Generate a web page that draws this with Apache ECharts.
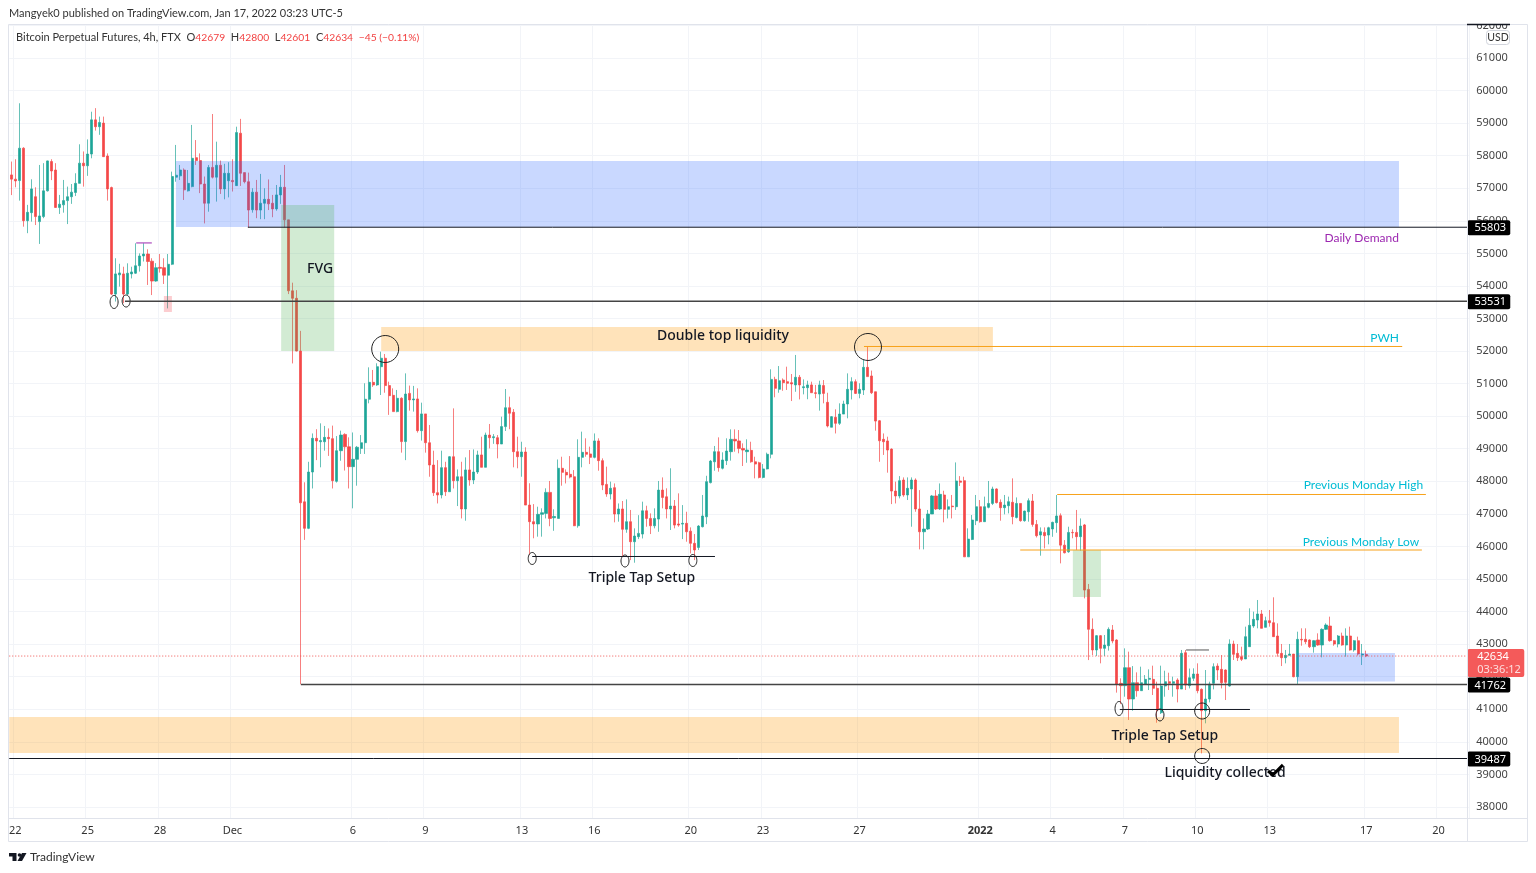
<!DOCTYPE html>
<html>
<head>
<meta charset="utf-8">
<title>Bitcoin Perpetual Futures, 4h, FTX</title>
<script src="https://cdn.jsdelivr.net/npm/echarts@6/dist/echarts.min.js"></script>
<style>
html, body { margin: 0; padding: 0; background: #fff; }
#main { width: 1536px; height: 873px; }
</style>
</head>
<body>
<div id="main"></div>
<script>
// 4h candles, each row is [open, close, low, high]
var candles = [
[57410,57280,56790,57820],[57280,57225,57030,57890],[57235,58230,56620,59610],[58230,56005,55820,58260],
[56005,56260,55620,56490],[56250,56980,55975,57275],[56740,56130,55870,57030],[55975,56150,55290,57715],
[56130,56920,56080,57770],[56920,57840,56900,57850],[57820,57530,57250,57890],[57560,56410,56400,57770],
[56410,56510,56210,56795],[56490,56620,56250,57255],[56620,56740,55900,57050],[56740,56880,56520,57130],
[56870,57150,56760,57460],[57150,57770,57150,58350],[57770,57690,57050,58130],[57690,58050,57380,58500],
[58050,59100,57920,59350],[59100,58890,58770,59460],[58890,59020,58640,59200],[59000,57970,57970,59200],
[57990,56980,56620,58070],[57020,53750,53720,57050],[53750,54370,53520,54850],[54340,54400,53980,54680],
[54370,53750,53470,54590],[53750,54390,53720,54695],[54370,54430,54230,54590],[54390,54620,54370,55310],
[54620,54920,54440,55000],[54920,54980,54750,55310],[54980,54750,54030,55125],[54760,54150,53720,54850],
[54150,54560,54130,54700],[54570,54540,54410,54980],[54560,54330,54060,54850],[54330,54665,53310,54980],
[54665,57360,54640,57510],[57340,57400,57200,58330],[57380,57560,57255,57715],[57560,56950,56640,57610],
[56920,57150,56900,57560],[57050,57920,57030,58945],[57940,57850,57715,58480],[57850,57130,56850,58070],
[57130,56540,55920,57360],[56540,57640,56280,57715],[57640,57340,57300,59280],[57340,57705,56590,58430],
[57705,56980,56825,57850],[56980,57460,56660,57750],[57230,57460,56720,57800],[57240,57200,56900,57890],
[57080,58710,57070,58890],[58690,57460,57070,59130],[57480,57200,57150,57480],[57200,56330,55800,57480],
[56340,56880,56250,57000],[56880,56330,56080,57255],[56330,56540,56050,57440],[56540,56660,56050,57000],
[56660,56520,56330,57270],[56540,56365,56110,56795],[56365,56795,56310,57100],[56795,57030,56520,57410],
[57030,56030,55800,57715],[56030,53850,53750,56030],[53850,53620,51620,54100],[53620,52000,51990,53870],
[52000,47340,41770,52620],[47370,46555,46200,47970],[46555,48285,46530,48600],[48285,49320,47780,49470],
[49320,49240,48650,49600],[49215,49250,48430,49780],[49215,49350,48940,49700],[49350,49310,48780,49625],
[49310,48020,47780,49710],[48000,48940,47960,49390],[48940,49420,48630,49555],[49440,49060,48330,49475],
[49060,48450,47780,49350],[48450,48675,47170,49500],[48675,49045,47865,49085],[49010,49185,48840,49420],
[49185,50520,48840,51010],[50520,51040,50395,51500],[51040,50960,50900,51420],[50960,51520,50930,51625],
[51520,51780,50650,51980],[51780,50940,50720,51910],[50940,50630,50040,51060],[50640,50140,50140,50855],
[50140,50550,50120,50805],[50550,49220,48880,50580],[49220,50680,48650,51315],[50700,50500,50170,50940],
[50500,50530,50140,50930],[50530,49555,49495,50855],[49555,50070,49250,50415],[50070,49185,48880,50070],
[49185,48500,48140,49730],[48500,47650,47550,48940],[47650,47580,47320,48650],[47580,48420,47475,48940],
[48420,47680,47550,48600],[47680,48755,47680,48775],[48755,48020,47780,50240],[48020,48140,47240,48365],
[48140,47150,46860,48600],[47150,48350,46790,48735],[48350,48040,47865,48960],[48040,48285,47915,48980],
[48285,48810,48225,48940],[48810,48430,48430,49370],[48430,49420,48430,49495],[49420,49340,49010,49760],
[49340,49370,49150,49450],[49340,49145,48705,49420],[49145,49680,49145,49985],[49680,50260,49545,50835],
[50260,50090,49600,50600],[50120,48910,48430,50220],[48910,48755,48400,49370],[48755,48900,48140,49215],
[48900,47270,47270,49045],[47270,46760,45735,47940],[46760,46690,46250,47300],[46690,46985,46300,47220],
[46985,47035,46300,47170],[47015,47660,46860,47785],[47660,46860,46620,48010],[46880,46920,46480,47140],
[46860,48400,46860,48670],[48400,48275,47865,48755],[48275,48195,47935,48365],[48215,48130,48090,48775],
[48140,46635,46625,48345],[46635,48735,46575,49290],[48735,48890,48430,49525],[48890,48830,48755,49320],
[48840,48735,48530,49065],[48735,49240,48705,49470],[49240,48635,48325,49320],[48635,47885,47730,48705],
[47905,47610,47525,48450],[47610,47785,47445,47990],[47805,46995,46740,47935],[46995,47150,46760,47320],
[47150,46525,45680,47395],[46525,46760,46420,47445],[46760,46145,45580,47120],[46145,46320,45500,46555],
[46300,46400,46225,46960],[46380,47095,46245,47375],[47095,46860,46605,47250],[46860,46635,46380,47015],
[46635,46860,46555,47170],[46840,47730,46450,48010],[47730,47505,47170,48120],[47525,47150,46860,47785],
[47150,47240,46505,48400],[47240,46655,46555,47425],[46690,46655,46605,47630],[46685,46710,46225,47270],
[46710,46450,46145,47065],[46470,46095,45785,46585],[46095,45890,45580,46380],[45970,46625,45890,46655],
[46605,46935,46585,47580],[46910,47990,46685,48170],[47960,48620,47935,48655],[48600,48910,48325,49085],
[48910,48420,48295,49350],[48400,48655,48365,48890],[48635,48930,48500,49320],[48910,49290,48635,49595],
[49290,49240,48910,49595],[49240,49010,48860,49575],[49010,48960,48470,49165],[48910,48960,48570,49290],
[48950,48600,48570,49215],[48600,48530,48090,48755],[48570,48120,48090,48600],[48120,48380,48090,48530],
[48380,48830,48365,48880],[48830,51130,48705,51440],[51130,50855,50580,51210],[50825,51090,50720,51540],
[51110,51030,50780,51160],[51060,51010,50805,51520],[51030,50990,50465,51295],[50960,51195,50750,51880],
[51195,50960,50515,51265],[50875,50905,50670,51130],[50875,50960,50520,51090],[50960,50720,50720,51060],
[50720,50700,50550,50960],[50680,50960,50170,51090],[50940,50700,50395,51110],[50425,49700,49655,50720],
[49660,49985,49660,50005],[49965,49780,49470,50210],[49780,50065,49730,50395],[50065,50375,50065,50475],
[50375,50825,49935,51315],[50805,51060,50515,51195],[51060,50700,50680,51130],[50700,50825,50550,51010],
[50805,51500,50650,51725],[51500,51215,51215,52155],[51235,50720,50680,51400],[50750,49850,49555,50750],
[49860,49245,48600,49880],[49290,49215,48810,49470],[49240,48960,48265,49370],[48990,47700,47300,49010],
[47700,47550,47320,47990],[47550,48020,47475,48160],[48040,47580,47525,48120],[47580,47785,47425,48120],
[47765,48040,46605,48120],[48040,47150,47065,48090],[47150,46450,45910,47730],[46450,46535,45910,46860],
[46535,46995,46505,47120],[46995,47550,46995,47580],[47550,47150,47120,47730],[47150,47600,47120,47935],
[47580,47140,46740,47710],[47140,47220,46860,47445],[47240,47220,46860,47580],[47220,48010,47120,48580],
[48010,47970,47855,48160],[48020,45680,45680,48140],[45680,46225,45680,46555],[46215,46810,46195,46965],
[46790,47220,46655,47580],[47220,46760,46730,47425],[46760,47220,46760,47530],[47200,47320,47170,48010],
[47320,47765,47270,47835],[47765,47345,47320,47785],[47355,47190,46790,47445],[47190,47270,46985,47580],
[47250,47375,47015,47530],[47355,46915,46680,48090],[46890,47320,46860,47505],[47320,46790,46760,47320],
[46790,47085,46760,47100],[47065,47405,46760,47475],[47395,46675,46605,47610],[46675,46330,46275,46810],
[46350,46450,45715,46585],[46430,46330,45940,46585],[46350,46575,46065,46605],[46535,46740,46295,46760],
[46730,46935,46420,47580],[46945,46040,45480,47015],[46040,45805,45785,46195],[45835,46430,45805,46605],
[46430,46420,46250,46525],[46430,46300,45890,47120],[46300,46625,45870,46860],[46660,44660,44405,46690],
[44680,43454,42510,44847],[43454,42820,42665,43790],[42820,43260,42635,43280],[43260,42870,42410,43280],
[42870,42970,42635,43280],[42950,43454,42800,43515],[43434,43095,43024,43587],[43126,41775,41510,43147],
[41795,41723,41160,41950],[41723,42276,41385,42870],[42276,41314,40670,42768],[41314,41815,40955,42327],
[41815,41570,41385,42133],[41570,41815,41570,42307],[41775,41918,41744,42050],[41918,41950,41590,42225],
[41918,41642,41437,42338],[41642,40976,40587,41846],[40893,41713,40853,42338],[41713,41846,41385,42184],
[41846,41795,41590,42122],[41795,41846,41385,42000],[41897,41620,41211,41950],[41620,42716,41620,42820],
[42737,41744,41590,42820],[41724,41969,41640,42250],[41950,42082,41870,42256],[42082,41570,41490,42410],
[41612,40955,39645,41640],[40955,41314,40567,42205],[41314,41775,41211,41846],[41795,42307,41610,42410],
[42327,42205,41897,42410],[42225,41815,41640,42665],[42205,41826,41283,42225],[41713,43004,41692,43147],
[43004,42686,42512,43106],[42716,42583,42481,43004],[42614,42532,42481,42920],[42543,43229,42543,43536],
[42921,43577,42921,44099],[43556,43761,43500,43997],[43740,43925,43485,44355],[43925,43485,43485,44048],
[43515,43720,43515,43843],[43720,43658,43536,44048],[43658,43229,43229,44437],[43249,42716,42614,43638],
[42716,42583,42327,43004],[42583,42655,42410,42820],[42655,42696,42655,43004],[42696,42000,41980,42696],
[42000,43147,41744,43382],[43147,43127,42950,43485],[43147,43075,43000,43485],[43127,42920,42880,43147],
[42920,43106,42737,43127],[43127,42972,42950,43331],[42972,43454,42594,43485],[43454,43587,43434,43638],
[43556,43106,43075,43843],[43106,43004,42950,43127],[43004,43249,42900,43280],[43249,42972,42950,43352],
[42972,43249,42614,43485],[43249,42820,42800,43536],[42820,43106,42767,43127],[43106,42696,42650,43229],
[42665,42696,42358,43004],[42679,42634,42601,42800]
];

var barCount = 363;
var tickLabels = ['22','25','28','Dec','6','9','13','16','20','23','27','2022','4','7','10','13','17','20'];
var tickDays = [0,3,6,9,14,17,21,24,28,31,35,40,43,46,49,52,56,59];
var priceTicks = [38000,39000,40000,41000,42000,43000,44000,45000,46000,47000,48000,49000,50000,51000,52000,53000,54000,55000,56000,57000,58000,59000,60000,61000,62000];

// price levels marked on the scale
var levelPrices = [55803, 53531, 41762, 39487];
var levelStarts = [59.4, 28.8, 72.6, 0];
var levelWidths = [1, 1.6, 1.6, 1];

// drawings, x is in bars from the left edge of the pane
var zones = [
  [41.5, 346, 57837, 55810, 'rgba(41,98,255,0.25)'],
  [67.7, 80.9, 56486, 52002, 'rgba(76,175,80,0.25)'],
  [92.6, 244.9, 52740, 52002, 'rgba(255,152,0,0.27)'],
  [0, 346, 40762, 39657, 'rgba(255,152,0,0.27)'],
  [264.8, 271.8, 45890, 44447, 'rgba(76,175,80,0.25)'],
  [320.6, 345, 42727, 41850, 'rgba(41,98,255,0.25)'],
  [38.5, 40.5, 53691, 53200, 'rgba(242,54,69,0.25)']
];
var segments = [
  [130.2, 175.7, 45691, '#131722'],
  [276.5, 308.9, 40993, '#131722'],
  [293, 298.7, 42820, '#555'],
  [31.6, 35.5, 55320, '#9c27b0'],
  [212.8, 346.8, 52140, '#f7a21b'],
  [260.9, 352.7, 47595, '#f7a21b'],
  [251.7, 351.7, 45890, '#f7a21b']
];
var rings = [
  [93.6, 52063, 13.5, 13.5], [213.8, 52125, 13.5, 13.5], [297, 40946, 7.5, 8], [297, 39565, 7.5, 7.5],
  [26.1, 53507, 4, 6.5], [29.1, 53537, 4, 6], [130.2, 45630, 4, 6], [153.3, 45553, 4, 6],
  [170.2, 45568, 4, 6], [276.3, 41023, 4, 7], [286.5, 40823, 4, 6]
];
var notes = [
  ['FVG', 77.4, 54551, 14, '#131722', 'center'],
  ['Double top liquidity', 177.7, 52493, 14, '#131722', 'center'],
  ['Triple Tap Setup', 157.5, 45061, 14, '#131722', 'center'],
  ['Triple Tap Setup', 287.7, 40209, 14, '#131722', 'center'],
  ['Liquidity collected', 302.7, 39073, 14, '#131722', 'center'],
  ['Daily Demand', 346, 55503, 12, '#9c27b0', 'right'],
  ['PWH', 346, 52432, 12, '#00bcd4', 'right'],
  ['Previous Monday High', 352, 47918, 12, '#00bcd4', 'right'],
  ['Previous Monday Low', 351, 46167, 12, '#00bcd4', 'right']
];
var checkMark = [[313.4, 39103], [314.6, 38980], [317.1, 39290]];
var lastPrice = 42634;
var countdown = '03:36:12';

var fontName = '"Noto Sans", sans-serif';
var smallFont = 'Lato, sans-serif';
var chartDom = document.getElementById('main');
var myChart = echarts.init(chartDom);

var categories = candles.map(function (c, i) { return i; });
while (categories.length < barCount) categories.push(categories.length);
var tickMap = {};
tickDays.forEach(function (d, i) { tickMap[1 + d * 6] = tickLabels[i]; });
function isTick(index) { return tickMap[index] !== undefined; }

function drawZone(params, api) {
  var z = zones[params.dataIndex];
  var a = api.coord([z[0], z[2]]);
  var b = api.coord([z[1], z[3]]);
  return { type: 'rect', shape: { x: a[0], y: a[1], width: b[0] - a[0], height: b[1] - a[1] }, style: { fill: z[4] } };
}
function drawSegment(params, api) {
  var s = segments[params.dataIndex];
  var a = api.coord([s[0], s[2]]);
  var b = api.coord([s[1], s[2]]);
  return { type: 'line', shape: { x1: a[0], y1: a[1], x2: b[0], y2: b[1] }, style: { stroke: s[3], lineWidth: 1 } };
}
function drawRing(params, api) {
  var r = rings[params.dataIndex];
  var c = api.coord([r[0], r[1]]);
  return { type: 'ellipse', shape: { cx: c[0], cy: c[1], rx: r[2], ry: r[3] }, style: { fill: 'none', stroke: '#222', lineWidth: 1 } };
}
function drawNote(params, api) {
  var n = notes[params.dataIndex];
  var c = api.coord([n[1], n[2]]);
  var big = n[3] > 12;
  return {
    type: 'text', x: c[0], y: c[1] + 1,
    style: { text: n[0], fontSize: n[3], fontFamily: big ? fontName : smallFont, fontWeight: big ? 500 : 400, fill: n[4], align: n[5], verticalAlign: 'middle' }
  };
}
function drawCheck(params, api) {
  return {
    type: 'polyline',
    shape: { points: checkMark.map(function (p) { return api.coord(p); }) },
    style: { fill: 'none', stroke: '#000', lineWidth: 3 }
  };
}
function drawLevel(params, api) {
  var i = params.dataIndex;
  var a = api.coord([levelStarts[i], levelPrices[i]]);
  var b = api.coord([barCount, levelPrices[i]]);
  return {
    type: 'group',
    children: [
      { type: 'line', shape: { x1: a[0], y1: a[1], x2: b[0], y2: b[1] }, style: { stroke: levelWidths[i] > 1 ? '#444' : '#131722', lineWidth: levelWidths[i] } },
      { type: 'rect', shape: { x: b[0], y: b[1] - 7, width: 43, height: 15, r: 2 }, style: { fill: '#000' } },
      { type: 'text', x: b[0] + 23, y: b[1] + 1, style: { text: String(levelPrices[i]), fontSize: 11, fontFamily: fontName, fill: '#fff', align: 'center', verticalAlign: 'middle' } }
    ]
  };
}
function drawLast(params, api) {
  var a = api.coord([0, lastPrice]);
  var b = api.coord([barCount, lastPrice]);
  return {
    type: 'group',
    children: [
      { type: 'line', shape: { x1: a[0], y1: a[1], x2: b[0], y2: b[1] }, style: { stroke: '#ef5350', lineWidth: 1, lineDash: [1, 2] } },
      { type: 'rect', shape: { x: b[0], y: b[1] - 7, width: 57, height: 28, r: 2 }, style: { fill: '#f45a5a' } },
      { type: 'text', x: b[0] + 10, y: b[1] + 1, style: { text: String(lastPrice), fontSize: 11, fontFamily: fontName, fill: '#fff', verticalAlign: 'middle' } },
      { type: 'text', x: b[0] + 10, y: b[1] + 14, style: { text: countdown, fontSize: 11, fontFamily: fontName, fill: 'rgba(255,255,255,0.8)', verticalAlign: 'middle' } }
    ]
  };
}
function drawingSeries(rows, renderItem, z, clip) {
  return {
    type: 'custom', xAxisIndex: 1, yAxisIndex: 0, silent: true, clip: clip, z: z,
    renderItem: renderItem,
    data: rows.map(function (r, i) { return [i]; })
  };
}

var option = {
  animation: false,
  backgroundColor: '#fff',
  title: [{
    text: 'Mangyek0 published on TradingView.com, Jan 17, 2022 03:23 UTC-5',
    left: 9, top: 8, padding: 0,
    textStyle: { fontSize: 11, fontWeight: 400, color: '#333', fontFamily: smallFont }
  }, {
    text: 'Bitcoin Perpetual Futures, 4h, FTX  O{r|42679}  H{r|42800}  L{r|42601}  C{r|42634}  {r|\u221245 (\u22120.11%)}',
    left: 16, top: 32, padding: 0,
    textStyle: { fontSize: 11, fontWeight: 400, color: '#333', fontFamily: smallFont, rich: { r: { fontSize: 10.3, color: '#f23f3f', fontFamily: smallFont } } }
  }, {
    text: 'TradingView',
    left: 30, top: 851, padding: 0,
    textStyle: { fontSize: 12, fontWeight: 400, color: '#333', fontFamily: smallFont }
  }],
  grid: { left: 9.25, top: 24, width: 1459.5, height: 794, containLabel: false },
  xAxis: [{
    type: 'category',
    data: categories,
    boundaryGap: true,
    axisLine: { show: false },
    axisTick: { show: false, alignWithLabel: true, interval: function (i) { return isTick(i); } },
    splitLine: { show: true, interval: function (i) { return isTick(i); }, lineStyle: { color: '#f2f4f8', width: 1 } },
    axisLabel: {
      interval: function (i) { return isTick(i); },
      formatter: function (v, i) { return tickMap[i] === '2022' ? '{b|2022}' : tickMap[i]; },
      margin: 7, fontSize: 11, color: '#333', fontFamily: fontName, hideOverlap: false,
      rich: { b: { fontSize: 11, fontWeight: 700, color: '#333', fontFamily: fontName } }
    }
  }, {
    // same pixels per bar as the drawings were read at
    type: 'value', min: 0, max: 363.37, show: false
  }],
  yAxis: {
    type: 'value',
    position: 'right',
    offset: -1.5,
    min: 37660,
    max: 62044,
    scale: true,
    axisLine: { show: false },
    axisTick: { show: false, customValues: priceTicks },
    splitLine: { show: true, lineStyle: { color: '#f2f4f8', width: 1 } },
    axisLabel: {
      customValues: priceTicks, margin: 9, padding: [4, 0, 0, 0], fontSize: 11, color: '#444', fontFamily: fontName,
      formatter: function (v) { return String(v); }
    }
  },
  series: [{
    type: 'candlestick',
    data: candles,
    barWidth: 2.6,
    z: 2,
    itemStyle: {
      color: '#1ba698', color0: '#f44848',
      borderColor: 'rgba(38,166,154,0.7)', borderColor0: 'rgba(244,72,72,0.7)', borderWidth: 1
    }
  },
  drawingSeries(zones, drawZone, 3, true),
  drawingSeries(segments, drawSegment, 4, true),
  drawingSeries(rings, drawRing, 4, true),
  drawingSeries(notes, drawNote, 5, false),
  drawingSeries([0], drawCheck, 6, false),
  drawingSeries([lastPrice], drawLast, 6, false),
  drawingSeries(levelPrices, drawLevel, 7, false)],
  graphic: [
    { type: 'rect', z: 20, shape: { x: 1467, y: 0, width: 69, height: 24 }, style: { fill: '#fff' } },
    { type: 'line', z: 21, shape: { x1: 8.5, y1: 24.5, x2: 1527.5, y2: 24.5 }, style: { stroke: '#e0e3eb', lineWidth: 1 } },
    { type: 'line', z: 21, shape: { x1: 8.5, y1: 24.5, x2: 8.5, y2: 841.5 }, style: { stroke: '#e0e3eb', lineWidth: 1 } },
    { type: 'line', z: 21, shape: { x1: 1527.5, y1: 24.5, x2: 1527.5, y2: 841.5 }, style: { stroke: '#e0e3eb', lineWidth: 1 } },
    { type: 'line', z: 21, shape: { x1: 1467.5, y1: 24.5, x2: 1467.5, y2: 841.5 }, style: { stroke: '#e0e3eb', lineWidth: 1 } },
    { type: 'line', z: 21, shape: { x1: 8.5, y1: 818.5, x2: 1527.5, y2: 818.5 }, style: { stroke: '#e0e3eb', lineWidth: 1 } },
    { type: 'line', z: 21, shape: { x1: 8.5, y1: 841.5, x2: 1527.5, y2: 841.5 }, style: { stroke: '#e0e3eb', lineWidth: 1 } },
    { type: 'line', z: 22, shape: { x1: 1467, y1: 24.5, x2: 1510, y2: 24.5 }, style: { stroke: '#131722', lineWidth: 1.5 } },
    { type: 'rect', z: 22, shape: { x: 1486.5, y: 30.5, width: 23, height: 14, r: 3 }, style: { fill: '#fff', stroke: '#d1d4dc' } },
    { type: 'text', z: 23, x: 1498, y: 37.5, style: { text: 'USD', fontSize: 10.5, fontFamily: smallFont, fill: '#333', align: 'center', verticalAlign: 'middle' } },
    // TradingView logo
    { type: 'polygon', z: 22, shape: { points: [[9, 853], [16.5, 853], [16.5, 861], [12.5, 861], [12.5, 856.5], [9, 856.5]] }, style: { fill: '#131722' } },
    { type: 'circle', z: 22, shape: { cx: 19.5, cy: 855, r: 1.8 }, style: { fill: '#131722' } },
    { type: 'polygon', z: 22, shape: { points: [[22, 853], [26.5, 853], [22, 861], [17.5, 861]] }, style: { fill: '#131722' } }
  ]
};
myChart.setOption(option);
</script>
</body>
</html>
